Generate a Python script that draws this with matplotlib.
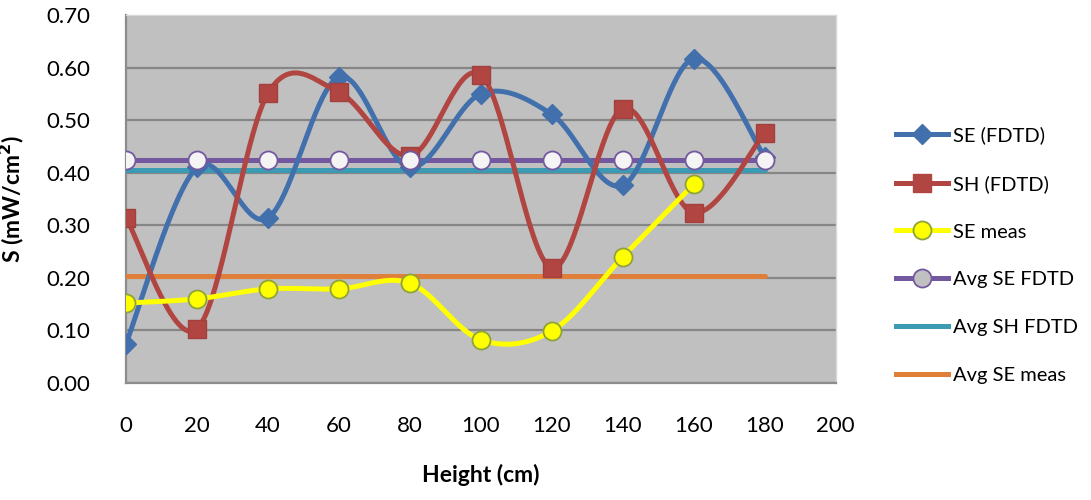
import numpy as np
import matplotlib.pyplot as plt

height = [0, 20, 40, 60, 80, 100, 120, 140, 160, 180]
se_fdtd = [0.075, 0.41, 0.314, 0.582, 0.410, 0.550, 0.511, 0.376, 0.617, 0.430]
sh_fdtd = [0.314, 0.103, 0.551, 0.553, 0.432, 0.586, 0.219, 0.522, 0.324, 0.476]
height_meas = [0, 20, 40, 60, 80, 100, 120, 140, 160]
se_meas = [0.152, 0.160, 0.179, 0.179, 0.190, 0.082, 0.099, 0.240, 0.378]
avg_se_fdtd = 0.425
avg_sh_fdtd = 0.405
avg_se_meas = 0.203


def smooth(x, y, n=40):
    # Excel-style smoothed line: cubic Bezier with Catmull-Rom control points
    x = np.asarray(x, float)
    y = np.asarray(y, float)
    px, py = [], []
    for i in range(len(x) - 1):
        i0 = max(i - 1, 0)
        i3 = min(i + 2, len(x) - 1)
        c1x = x[i] + (x[i + 1] - x[i0]) / 6
        c1y = y[i] + (y[i + 1] - y[i0]) / 6
        c2x = x[i + 1] - (x[i3] - x[i]) / 6
        c2y = y[i + 1] - (y[i3] - y[i]) / 6
        t = np.linspace(0, 1, n)
        bx = (1 - t) ** 3 * x[i] + 3 * (1 - t) ** 2 * t * c1x + 3 * (1 - t) * t ** 2 * c2x + t ** 3 * x[i + 1]
        by = (1 - t) ** 3 * y[i] + 3 * (1 - t) ** 2 * t * c1y + 3 * (1 - t) * t ** 2 * c2y + t ** 3 * y[i + 1]
        px.extend(bx)
        py.extend(by)
    return px, py


plt.rcParams['font.family'] = ['Lato', 'DejaVu Sans']

fig = plt.figure(figsize=(10.91, 5.0), dpi=100)
ax = fig.add_axes([0.1155, 0.234, 0.6505, 0.736])
ax.set_facecolor('#c0c0c0')

blue = '#4170ad'
red = '#b04541'
purple = '#7358a0'
teal = '#3d9ab3'
orange = '#e07f39'

lw = 3.6
avg_x = [height[0], height[-1]]

ax.plot(avg_x, [avg_se_meas] * 2, color=orange, lw=lw, solid_capstyle='round', zorder=3)
ax.plot(avg_x, [avg_sh_fdtd] * 2, color=teal, lw=lw, solid_capstyle='round', zorder=3)
ax.plot(avg_x, [avg_se_fdtd] * 2, color=purple, lw=lw, zorder=3)
ax.plot(height, [avg_se_fdtd] * len(height), ls='none', marker='o', ms=13,
        mfc='#f4f4f4', mec=purple, mew=1.3, zorder=6)

sx, sy = smooth(height, se_fdtd)
ax.plot(sx, sy, color=blue, lw=lw, zorder=4)
ax.plot(height, se_fdtd, ls='none', marker='D', ms=10.5, color=blue, zorder=5)

sx, sy = smooth(height, sh_fdtd)
ax.plot(sx, sy, color=red, lw=lw, zorder=4)
ax.plot(height, sh_fdtd, ls='none', marker='s', ms=12.5, color=red, mec='#a3403d', zorder=5)

sx, sy = smooth(height_meas, se_meas)
ax.plot(sx, sy, color='#ffff00', lw=lw, zorder=4)
ax.plot(height_meas, se_meas, ls='none', marker='o', ms=13, mfc='#ffff00', mec='#8ea33a',
        mew=1.3, zorder=5)

ax.set_xlim(0, 200)
ax.set_ylim(0, 0.70)
ax.set_xticks(np.arange(0, 201, 20))
ax.set_yticks(np.arange(0, 0.71, 0.1))
ax.set_yticklabels([f'{v:.2f}' for v in np.arange(0, 0.71, 0.1)])
ax.tick_params(axis='both', length=0, labelsize=16, colors='black')
ax.tick_params(axis='x', pad=24)
ax.tick_params(axis='y', pad=26)
ax.yaxis.grid(True, color='#868686', lw=1.6)
ax.set_axisbelow(True)
for side in ['left', 'bottom']:
    ax.spines[side].set_color('#8c8c8c')
    ax.spines[side].set_linewidth(1.6)
for side in ['top', 'right']:
    ax.spines[side].set_color('#d8d8d8')
    ax.spines[side].set_linewidth(1.0)

ax.set_xlabel('Height (cm)', fontsize=16.5, fontweight='bold', labelpad=20)
ax.set_ylabel('S (mW/cm$^\\mathbf{2}$)', fontsize=16.5, fontweight='bold', labelpad=14)

handles = [
    plt.Line2D([], [], color=blue, lw=lw, marker='D', ms=10.5),
    plt.Line2D([], [], color=red, lw=lw, marker='s', ms=12.5),
    plt.Line2D([], [], color='#ffff00', lw=lw, marker='o', ms=13, mec='#8ea33a', mew=1.3),
    plt.Line2D([], [], color=purple, lw=lw, marker='o', ms=13, mfc='#c0c0c0', mec=purple, mew=1.3),
    plt.Line2D([], [], color=teal, lw=lw),
    plt.Line2D([], [], color=orange, lw=lw),
]
labels = ['SE (FDTD)', 'SH (FDTD)', 'SE meas', 'Avg SE FDTD', 'Avg SH FDTD', 'Avg SE meas']
fig.legend(handles, labels, loc='center left', bbox_to_anchor=(0.821, 0.49),
           frameon=False, fontsize=14.5, handlelength=2.6, labelspacing=1.52,
           handletextpad=0.25, borderaxespad=0, borderpad=0)

fig.savefig('out.png', dpi=100)
